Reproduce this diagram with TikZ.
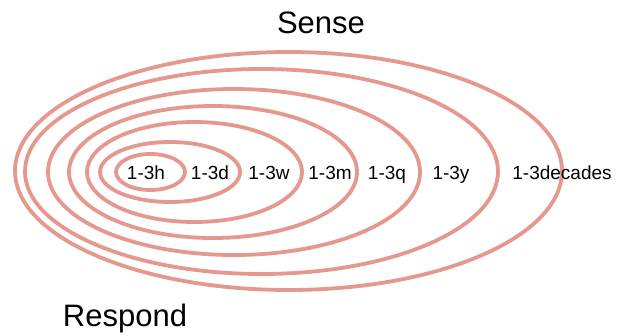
\documentclass[tikz,border=0pt]{standalone}
\usepackage{fontspec}
\setmainfont{Liberation Sans}
\definecolor{ring}{RGB}{228,152,142}
\begin{document}
\begin{tikzpicture}[x=1pt,y=-1pt,
  ringline/.style={draw=ring,line width=3.8pt},
  lab/.style={anchor=base,inner sep=0pt,font=\fontsize{19}{22}\selectfont},
  big/.style={anchor=base,inner sep=0pt,font=\fontsize{31}{36}\selectfont}]
\useasboundingbox (0,0) rectangle (618,335);
\fill[white] (0,0) rectangle (618,335);
\draw[ringline] (150.5,172) ellipse [x radius=34.5,y radius=18];
\draw[ringline] (170,172) ellipse [x radius=70,y radius=30];
\draw[ringline] (194.5,172) ellipse [x radius=107.5,y radius=50];
\draw[ringline] (213,172) ellipse [x radius=144,y radius=66];
\draw[ringline] (234,172) ellipse [x radius=186,y radius=83];
\draw[ringline] (261.5,171.5) ellipse [x radius=236.5,y radius=102.5];
\draw[ringline] (288.5,171) ellipse [x radius=273.5,y radius=119];
\node[lab] (h) at (146,179) {1-3h};
\node[lab] (d) at (210,179) {1-3d};
\node[lab] (w) at (269,179) {1-3w};
\node[lab] (m) at (330,179) {1-3m};
\node[lab] (q) at (387,179) {1-3q};
\node[lab] (y) at (451,179) {1-3y};
\node[lab] (dec) at (562,179) {1-3decades};
\node[big] (sense) at (321,33) {Sense};
\node[big] (respond) at (125,326) {Respond};
\end{tikzpicture}
\end{document}
